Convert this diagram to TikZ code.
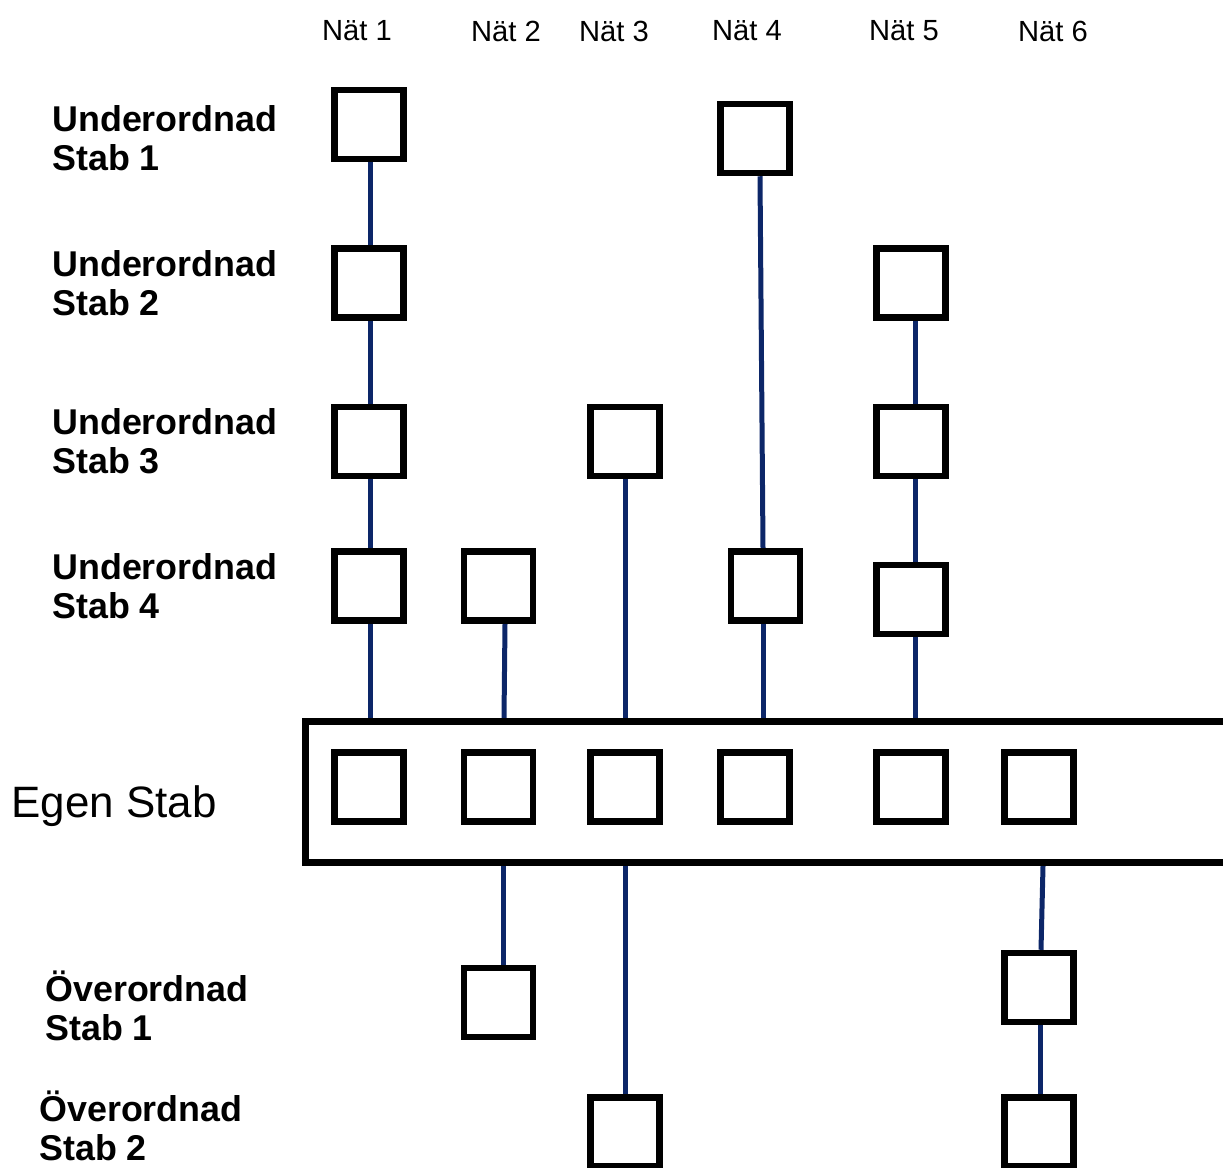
\documentclass[tikz,border=0pt]{standalone}
\usepackage{fontspec}
\setmainfont{Liberation Sans}
\usetikzlibrary{calc,backgrounds}
\definecolor{navy}{RGB}{12,38,104}
\begin{document}
\begin{tikzpicture}[x=0.02cm,y=-0.02cm,
  sq/.style={draw=black,line width=0.13cm,minimum width=1.38cm,minimum height=1.38cm,inner sep=0pt,fill=white},
  link/.style={draw=navy,line width=0.1cm},
  rowlabel/.style={anchor=west,align=left,inner sep=0pt,font=\fontsize{20.4}{22.5}\selectfont\bfseries},
  netlabel/.style={inner sep=0pt,font=\fontsize{16.6}{19}\selectfont}]
\useasboundingbox (0,0) rectangle (1223,1167);
% net labels
\node[netlabel] (n1) at (357,31) {Nät 1};
\node[netlabel] (n2) at (506,31) {Nät 2};
\node[netlabel] (n3) at (614,31) {Nät 3};
\node[netlabel] (n4) at (747,31) {Nät 4};
\node[netlabel] (n5) at (904,31) {Nät 5};
\node[netlabel] (n6) at (1053,31) {Nät 6};
% row labels
\node[rowlabel] (l1) at (52,138) {Underordnad\\Stab 1};
\node[rowlabel] (l2) at (52,283) {Underordnad\\Stab 2};
\node[rowlabel] (l3) at (52,441) {Underordnad\\Stab 3};
\node[rowlabel] (l4) at (52,586) {Underordnad\\Stab 4};
\node[rowlabel] (l5) at (45,1006) {Överordnad\\Stab 1};
\node[rowlabel] (l6) at (39,1126) {Överordnad\\Stab 2};
\node[anchor=west,inner sep=0pt,font=\fontsize{25}{28}\selectfont] (egenlabel) at (11,806) {Egen Stab};
% Egen Stab frame
\node[draw=black,line width=0.14cm,minimum width=19.09cm,minimum height=2.82cm,inner sep=0pt] (egen) at (782.75,792) {};
% subordinate boxes
\node[sq] (u11) at (369,124.5) {};
\node[sq] (u14) at (755,138.5) {};
\node[sq] (u21) at (369,283) {};
\node[sq] (u25) at (911,283) {};
\node[sq] (u31) at (369,441.5) {};
\node[sq] (u33) at (625,441.5) {};
\node[sq] (u35) at (911,441.5) {};
\node[sq] (u41) at (369,586) {};
\node[sq] (u42) at (498.5,586) {};
\node[sq] (u44) at (765.5,586) {};
\node[sq] (u45) at (911,599.5) {};
% own staff boxes
\node[sq] (e1) at (369,787) {};
\node[sq] (e2) at (498.5,787) {};
\node[sq] (e3) at (625,787) {};
\node[sq] (e4) at (755,787) {};
\node[sq] (e5) at (911,787) {};
\node[sq] (e6) at (1039,787) {};
% superior boxes
\node[sq] (o12) at (498.5,1002.5) {};
\node[sq] (o16) at (1039,987.5) {};
\node[sq] (o23) at (625,1132) {};
\node[sq] (o26) at (1039,1132) {};
\begin{pgfonlayer}{background}
% Nät 1
\draw[link] ($(u11.south)+(1,0)$) -- ($(u21.north)+(1,0)$);
\draw[link] ($(u21.south)+(1,0)$) -- ($(u31.north)+(1,0)$);
\draw[link] ($(u31.south)+(1,0)$) -- ($(u41.north)+(1,0)$);
\draw[link] ($(u41.south)+(1,0)$) -- ($(u41.south |- egen.north)+(1,0)$);
% Nät 2
\draw[link] ($(u42.south)+(6.5,0)$) -- ($(u42.south |- egen.north)+(5.5,0)$);
\draw[link] ($(o12.north |- egen.south)+(4.5,0)$) -- ($(o12.north)+(4.5,0)$);
% Nät 3
\draw[link] (u33.south) -- (u33.south |- egen.north);
\draw[link] (o23.north |- egen.south) -- (o23.north);
% Nät 4
\draw[link] ($(u14.south)+(5,0)$) -- ($(u44.north)+(-2.5,0)$);
\draw[link] ($(u44.south)+(-2.5,0)$) -- ($(u44.south |- egen.north)+(-2.5,0)$);
% Nät 5
\draw[link] ($(u25.south)+(4,0)$) -- ($(u35.north)+(4,0)$);
\draw[link] ($(u35.south)+(4,0)$) -- ($(u45.north)+(4,0)$);
\draw[link] ($(u45.south)+(4,0)$) -- ($(u45.south |- egen.north)+(4,0)$);
% Nät 6
\draw[link] ($(o16.north |- egen.south)+(4,0)$) -- ($(o16.north)+(2,0)$);
\draw[link] ($(o16.south)+(1,0)$) -- ($(o26.north)+(1,0)$);
\end{pgfonlayer}
\end{tikzpicture}
\end{document}
